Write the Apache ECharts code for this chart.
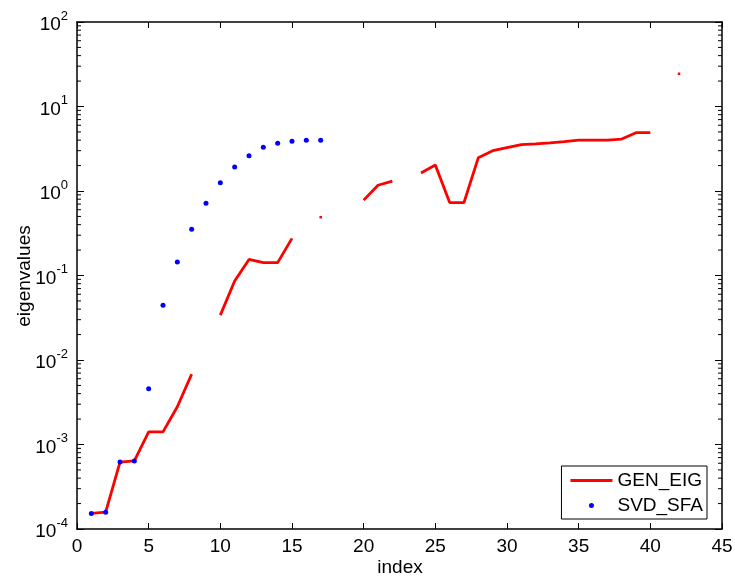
<!DOCTYPE html>
<html><head><meta charset="utf-8">
<script src="https://cdn.jsdelivr.net/npm/echarts@6/dist/echarts.min.js"></script>
<style>html,body{margin:0;padding:0;background:#fff}#c{width:735px;height:577px}</style>
</head><body><div id="c"></div>
<script>
// index values
const genIndex = [1,2,3,4,5,6,7,8,9,10,11,12,13,14,15,16,17,18,19,20,21,22,23,24,25,26,27,28,29,30,31,32,33,34,35,36,37,38,39,40,41,42];
// GEN_EIG eigenvalues (null = gap)
const genEig = [1.53e-4,1.58e-4,6.2e-4,6.4e-4,1.41e-3,1.41e-3,2.8e-3,6.8e-3,null,0.034,0.086,0.155,0.142,0.142,0.275,null,0.49,null,null,0.78,1.17,1.31,null,1.63,2.03,0.73,0.73,2.48,3.0,3.26,3.53,3.62,3.72,3.85,4.0,4.0,4.0,4.12,4.9,4.9,null,24.4];
// SVD_SFA eigenvalues
const svdIndex = [1,2,3,4,5,6,7,8,9,10,11,12,13,14,15,16,17];
const svdSfa = [1.53e-4,1.58e-4,6.2e-4,6.4e-4,4.58e-3,0.0444,0.1445,0.352,0.714,1.255,1.92,2.62,3.29,3.67,3.87,3.98,3.98];
// axis ticks
const xTicks = {min:0, max:45, interval:5};
const yRange = {min:1e-4, max:1e2};
const xName = 'index';
const yName = 'eigenvalues';

const minorVals = [];
for (let e = -4; e < 2; e++) for (let k = 2; k <= 9; k++) minorVals.push(k * Math.pow(10, e));

const genData = genIndex.map((x, i) => [x, genEig[i]]);
const svdData = svdIndex.map((x, i) => [x, svdSfa[i]]);

function isolated(i) {
  if (genEig[i] == null) return false;
  const prev = i > 0 ? genEig[i-1] : null;
  const next = i < genEig.length - 1 ? genEig[i+1] : null;
  return prev == null && next == null;
}

const FONT = 'Liberation Sans, Arial, Helvetica, sans-serif';
const chart = echarts.init(document.getElementById('c'), null, {renderer:'canvas'});
chart.setOption({
  animation: false,
  backgroundColor: '#fff',
  grid: {left: 77, right: 13, top: 22, bottom: 48, containLabel: false, outerBoundsMode: 'none'},
  graphic: [
    {type: 'text', x: 400, y: 568, style: {text: xName, font: '19px ' + FONT, fill: '#000', align: 'center', verticalAlign: 'middle'}},
    {type: 'text', x: 25, y: 276, rotation: Math.PI / 2, style: {text: yName, font: '19px ' + FONT, fill: '#000', align: 'center', verticalAlign: 'middle'}}
  ],
  legend: {
    orient: 'vertical', right: 28, bottom: 58,
    backgroundColor: '#fff', borderColor: '#000', borderWidth: 1, borderRadius: 0,
    padding: [5, 4, 4, 9],
    itemWidth: 42, itemHeight: 5, itemGap: 6,
    textStyle: {fontFamily: FONT, fontSize: 19, color: '#000'},
    data: [
      {name: 'GEN_EIG', icon: 'path://M0,0L42,0L42,2.8L0,2.8Z', itemStyle: {color: '#ff0000'}},
      {name: 'SVD_SFA', icon: 'circle', itemStyle: {color: '#0000ff'}}
    ]
  },
  xAxis: [{
    type: 'value', min: xTicks.min, max: xTicks.max, interval: xTicks.interval,
    axisLine: {onZero: false, lineStyle: {color: '#000', width: 1.5}},
    axisTick: {inside: true, length: 6, lineStyle: {color: '#000'}},
    axisLabel: {fontFamily: FONT, fontSize: 19, color: '#000', margin: 8},
    splitLine: {show: false}
  }, {
    type: 'value', position: 'top', min: xTicks.min, max: xTicks.max, interval: xTicks.interval,
    axisLine: {onZero: false, lineStyle: {color: '#000', width: 1.5}},
    axisTick: {inside: true, length: 6, lineStyle: {color: '#000'}},
    axisLabel: {show: false}, splitLine: {show: false}
  }],
  yAxis: [{
    type: 'log', logBase: 10, min: yRange.min, max: yRange.max,
    axisLine: {onZero: false, lineStyle: {color: '#000', width: 1.5}},
    axisTick: {inside: true, length: 7, lineStyle: {color: '#000'}},
    axisLabel: {
      margin: 9,
      formatter: v => '{b|10}{s|' + Math.round(Math.log10(v)) + '}',
      rich: {
        b: {fontFamily: FONT, fontSize: 19, color: '#000', padding: [6, 0, 0, 0]},
        s: {fontFamily: FONT, fontSize: 13, color: '#000', verticalAlign: 'top', padding: [0, 0, 9, 0]}
      }
    },
    splitLine: {show: false}
  }, {
    type: 'log', logBase: 10, min: yRange.min, max: yRange.max, position: 'right',
    axisLine: {onZero: false, lineStyle: {color: '#000', width: 1.5}},
    axisTick: {inside: true, length: 7, lineStyle: {color: '#000'}},
    axisLabel: {show: false}, splitLine: {show: false}
  }],
  series: [
    {
      name: 'GEN_EIG', type: 'line', data: genData, connectNulls: false,
      color: '#ff0000',
      lineStyle: {color: '#ff0000', width: 2.8},
      itemStyle: {color: '#ff0000'},
      symbol: 'rect', showAllSymbol: true,
      symbolSize: (v, p) => isolated(p.dataIndex) ? 2.5 : 0,
      z: 3
    },
    {
      name: 'SVD_SFA', type: 'scatter', data: svdData,
      symbol: 'circle', symbolSize: 5,
      itemStyle: {color: '#0000ff', opacity: 1},
      z: 4
    },
    {
      name: 'minor', type: 'custom', silent: true, z: 2,
      data: minorVals.map(v => [v]),
      renderItem: function (params, api) {
        const v = api.value(0);
        const pL = api.coord([xTicks.min, v]);
        const pR = api.coord([xTicks.max, v]);
        return {
          type: 'group',
          children: [
            {type: 'line', shape: {x1: pL[0], y1: pL[1], x2: pL[0] + 4, y2: pL[1]}, style: {stroke: '#000', lineWidth: 1}},
            {type: 'line', shape: {x1: pR[0], y1: pR[1], x2: pR[0] - 4, y2: pR[1]}, style: {stroke: '#000', lineWidth: 1}}
          ]
        };
      },
      encode: {y: 0}
    }
  ]
});
</script></body></html>
